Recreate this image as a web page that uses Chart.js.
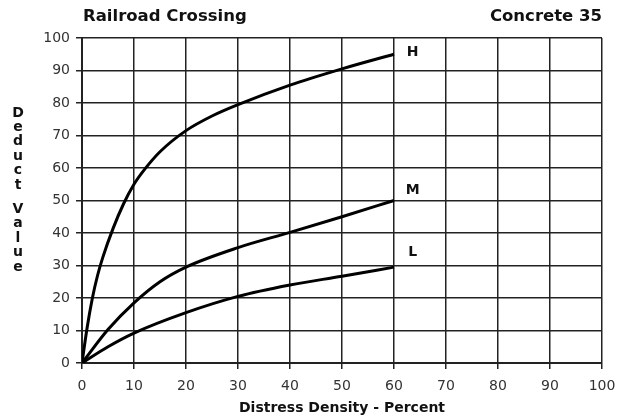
<!DOCTYPE html>
<html>
<head>
<meta charset="utf-8">
<script src="https://cdn.jsdelivr.net/npm/chart.js@4"></script>
<style>
  html, body { margin: 0; padding: 0; background: #fff; }
  #wrap { width: 618px; height: 420px; position: relative; }
</style>
</head>
<body>
<div id="wrap"><canvas id="myChart"></canvas></div>
<script>
// Deduct value curves for railroad crossing (concrete, distress 35)
const densityH = [0, 1, 2, 3, 4, 6, 8, 10, 12, 15, 20, 25, 30, 40, 50, 60];
const valuesH  = [0, 11, 20, 27, 32.5, 41.5, 49, 55, 59.5, 65, 71.5, 76, 79.5, 85.5, 90.5, 95];

const densityM = [0, 5, 10, 15, 20, 30, 40, 50, 60];
const valuesM  = [0, 10.3, 18.5, 25, 29.5, 35.5, 40.2, 45, 50];

const densityL = [0, 5, 10, 20, 30, 40, 50, 60];
const valuesL  = [0, 5, 9.2, 15.5, 20.5, 24, 26.7, 29.5];

const curveLabels = ['H', 'M', 'L'];
const xTicks = [0, 10, 20, 30, 40, 50, 60, 70, 80, 90, 100];
const yTicks = [0, 10, 20, 30, 40, 50, 60, 70, 80, 90, 100];

function toPoints(xs, ys) {
    return xs.map((x, i) => ({ x: x, y: ys[i] }));
}

const FONT = "'DejaVu Sans', Verdana, sans-serif";

// titles, stacked y title and the H / M / L end labels
const extras = {
    id: 'extras',
    afterDatasetsDraw(chart) {
        const ctx = chart.ctx;
        const area = chart.chartArea;
        const xs = chart.scales.x, ys = chart.scales.y;
        ctx.save();
        ctx.fillStyle = '#111';
        ctx.textBaseline = 'middle';

        ctx.font = 'bold 16.5px ' + FONT;
        ctx.textAlign = 'left';
        ctx.fillText('Railroad Crossing', area.left + 1, 17);
        ctx.textAlign = 'right';
        ctx.fillText('Concrete 35', area.right, 17);

        // curve names at the end of each line
        ctx.font = 'bold 14px ' + FONT;
        ctx.textAlign = 'center';
        const ends = [95.5, 53, 34];
        ends.forEach((v, i) => {
            ctx.fillText(curveLabels[i], xs.getPixelForValue(63.6), ys.getPixelForValue(v));
        });

        // y axis title, one letter per row
        ctx.font = 'bold 14px ' + FONT;
        const letters = 'Deduct Value'.split('');
        let yy = 113;
        letters.forEach(ch => {
            if (ch === ' ') { yy += 10; return; }
            ctx.fillText(ch, 18, yy);
            yy += 14.4;
        });

        ctx.fillText('Distress Density - Percent', (area.left + area.right) / 2, 408);
        ctx.restore();
    }
};

const lineStyle = {
    borderColor: '#000',
    borderWidth: 3,
    pointRadius: 0,
    fill: false,
    cubicInterpolationMode: 'monotone'
};

new Chart(document.getElementById('myChart'), {
    type: 'line',
    data: {
        datasets: [
            Object.assign({ label: curveLabels[0], data: toPoints(densityH, valuesH) }, lineStyle),
            Object.assign({ label: curveLabels[1], data: toPoints(densityM, valuesM) }, lineStyle),
            Object.assign({ label: curveLabels[2], data: toPoints(densityL, valuesL) }, lineStyle)
        ]
    },
    options: {
        responsive: true,
        maintainAspectRatio: false,
        animation: false,
        layout: { padding: { top: 38, right: 16, left: 0, bottom: 0 } },
        plugins: { legend: { display: false }, tooltip: { enabled: false } },
        scales: {
            x: {
                type: 'linear',
                min: 0, max: 100,
                afterBuildTicks: s => { s.ticks = xTicks.map(v => ({ value: v })); },
                afterFit: s => { s.height = 57; s.paddingLeft = 0; s.paddingRight = 0; },
                grid: { color: '#222', lineWidth: 1.5, tickLength: 6, tickColor: '#222' },
                border: { color: '#222', width: 2 },
                ticks: { color: '#333', font: { family: FONT, size: 14 }, padding: 9, maxRotation: 0 }
            },
            y: {
                min: 0, max: 100,
                afterBuildTicks: s => { s.ticks = yTicks.map(v => ({ value: v })); },
                afterFit: s => { s.width = 82; s.paddingTop = 0; s.paddingBottom = 0; },
                grid: { color: '#222', lineWidth: 1.5, tickLength: 6, tickColor: '#222' },
                border: { color: '#222', width: 2 },
                ticks: { color: '#333', font: { family: FONT, size: 14 }, padding: 6 }
            }
        }
    },
    plugins: [extras]
});
</script>
</body>
</html>
